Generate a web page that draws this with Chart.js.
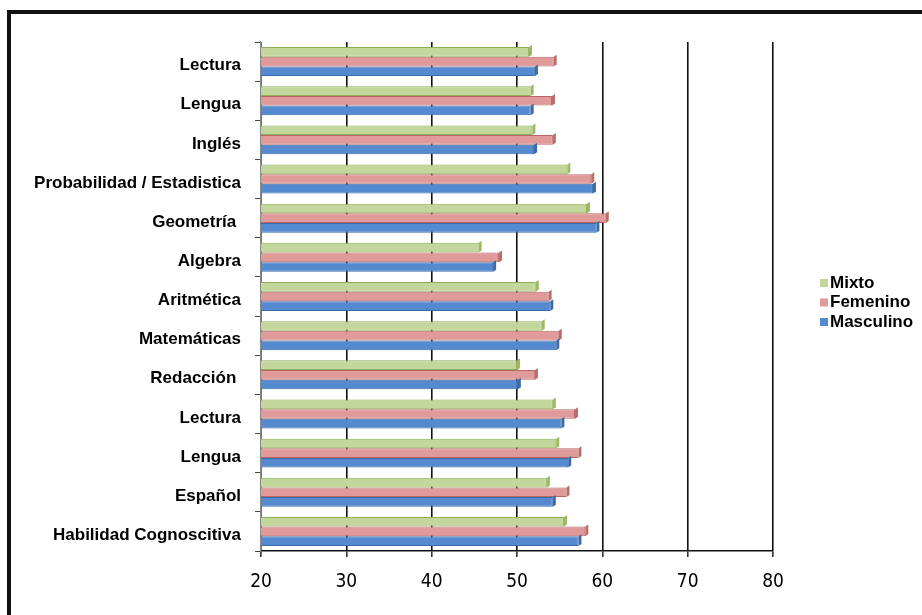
<!DOCTYPE html>
<html>
<head>
<meta charset="utf-8">
<script src="https://cdn.jsdelivr.net/npm/chart.js@4.4.1/dist/chart.umd.min.js"></script>
<style>
  html, body { margin: 0; padding: 0; background: #fff; }
  #wrap { position: relative; width: 922px; height: 615px; overflow: hidden; }
  #frame { position: absolute; left: 7px; top: 10px; width: 1000px; height: 700px;
           border-top: 4px solid #111; border-left: 4px solid #111; }
  canvas { position: absolute; left: 0; top: 0; }
</style>
</head>
<body>
<div id="wrap">
  <div id="frame"></div>
  <canvas id="c" width="922" height="615"></canvas>
</div>
<script>
// Categories, top to bottom
const categories = [
  'Lectura', 'Lengua', 'Inglés', 'Probabilidad / Estadistica', 'Geometría ',
  'Algebra', 'Aritmética', 'Matemáticas', 'Redacción ', 'Lectura', 'Lengua',
  'Español', 'Habilidad Cognoscitiva'
];

// Scores by group
const mixto     = [51.4, 51.6, 51.8, 55.9, 58.2, 45.5, 52.2, 52.9, 50.0, 54.2, 54.6, 53.5, 55.5];
const femenino  = [54.3, 54.1, 54.2, 58.7, 60.4, 47.9, 53.7, 54.9, 52.1, 56.8, 57.2, 55.8, 58.0];
const masculino = [52.1, 51.6, 52.0, 58.9, 59.3, 47.2, 53.9, 54.6, 50.1, 55.2, 56.0, 54.2, 57.2];

const seriesNames = ['Mixto', 'Femenino', 'Masculino'];
const xTicks = [20, 30, 40, 50, 60, 70, 80];

const fills   = ['#C3D69B', '#E09A99', '#5589D0'];
const edges   = ['#8FAE57', '#B96664', '#3A6BAA'];
const caps    = ['#9DB966', '#B86E6C', '#3D6AA3'];

// Small depth caps at the end of each bar for a bevelled look
const barCaps = {
  id: 'barCaps',
  afterDatasetsDraw(chart) {
    const ctx = chart.ctx;
    const d = 3;
    chart.data.datasets.forEach((ds, i) => {
      const meta = chart.getDatasetMeta(i);
      meta.data.forEach(bar => {
        const top = bar.y - bar.height / 2;
        const bot = bar.y + bar.height / 2;
        ctx.save();
        ctx.fillStyle = caps[i];
        ctx.beginPath();
        ctx.moveTo(bar.x, top);
        ctx.lineTo(bar.x + d, top - d + 1);
        ctx.lineTo(bar.x + d, bot - d + 1);
        ctx.lineTo(bar.x, bot);
        ctx.closePath();
        ctx.fill();
        ctx.restore();
      });
    });
  }
};

// Legend drawn beside the plot
const sideLegend = {
  id: 'sideLegend',
  afterDraw(chart) {
    const ctx = chart.ctx;
    const x0 = 820, y0 = 283, step = 19.5;
    ctx.save();
    ctx.font = 'bold 17px "Liberation Sans", Arial, sans-serif';
    ctx.textBaseline = 'middle';
    ctx.textAlign = 'left';
    chart.data.datasets.forEach((ds, i) => {
      const y = y0 + i * step;
      ctx.fillStyle = fills[i];
      ctx.fillRect(x0, y - 4, 8, 8);
      ctx.fillStyle = '#000';
      ctx.fillText(ds.label, x0 + 10, y);
    });
    ctx.restore();
  }
};

new Chart(document.getElementById('c'), {
  type: 'bar',
  data: {
    labels: categories,
    datasets: [
      { label: seriesNames[0], data: mixto,     backgroundColor: fills[0], borderColor: edges[0] },
      { label: seriesNames[1], data: femenino,  backgroundColor: fills[1], borderColor: edges[1] },
      { label: seriesNames[2], data: masculino, backgroundColor: fills[2], borderColor: edges[2] }
    ]
  },
  options: {
    indexAxis: 'y',
    responsive: false,
    animation: false,
    devicePixelRatio: 1,
    datasets: {
      bar: { categoryPercentage: 0.74, barPercentage: 1.0, borderWidth: 1, borderSkipped: 'start' }
    },
    layout: { padding: { top: 42, left: 0, right: 149, bottom: 0 } },
    plugins: { legend: { display: false }, tooltip: { enabled: false } },
    scales: {
      x: {
        min: 20, max: 80,
        afterBuildTicks: s => { s.ticks = xTicks.map(v => ({ value: v })); },
        afterFit: s => { s.height = 64; },
        ticks: {
          color: '#000', padding: 14,
          font: { family: '"DejaVu Sans Condensed", "Liberation Sans", Arial, sans-serif', size: 19 }
        },
        grid: { color: '#111', lineWidth: 1.6, drawTicks: true, tickLength: 6, tickColor: '#333' },
        border: { color: '#111', width: 1.6 }
      },
      y: {
        afterFit: s => { s.width = 261; },
        ticks: {
          color: '#000', padding: 14, labelOffset: 4,
          font: { family: '"Liberation Sans", Arial, sans-serif', size: 17, weight: 'bold' }
        },
        grid: { drawOnChartArea: false, drawTicks: true, tickLength: 6, color: '#444', offset: true },
        border: { color: '#888', width: 1.2 }
      }
    }
  },
  plugins: [barCaps, sideLegend]
});
</script>
</body>
</html>
